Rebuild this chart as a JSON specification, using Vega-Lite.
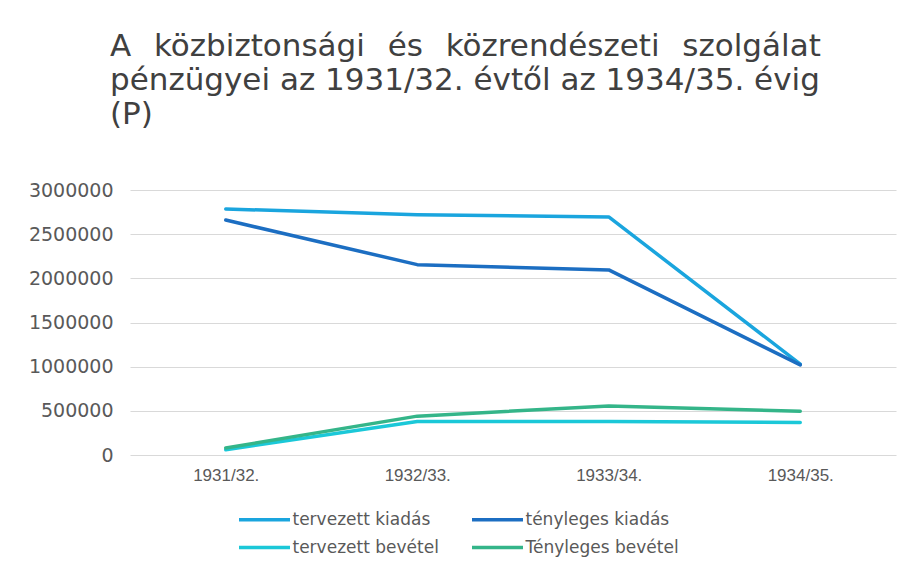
{
  "$schema": "https://vega.github.io/schema/vega-lite/v6.json",
  "autosize": "none",
  "width": 766,
  "height": 265,
  "padding": {"left": 130, "top": 190, "right": 17, "bottom": 114},
  "background": "white",
  "title": {
    "text": ["A \u00a0\u200aközbiztonsági \u00a0\u200aés \u00a0\u200aközrendészeti \u00a0\u200aszolgálat", "pénzügyei az 1931/32. évtől az 1934/35. évig", "(P)"],
    "anchor": "start",
    "frame": "group",
    "dx": -20,
    "offset": 50,
    "font": "DejaVu Sans",
    "fontSize": 31,
    "fontWeight": "normal",
    "lineHeight": 34,
    "color": "#404040"
  },
  "data": {
    "values": [
      {"ev": "1931/32.", "sorozat": "tervezett kiadás", "ertek": 2785000},
      {"ev": "1932/33.", "sorozat": "tervezett kiadás", "ertek": 2720000},
      {"ev": "1933/34.", "sorozat": "tervezett kiadás", "ertek": 2695000},
      {"ev": "1934/35.", "sorozat": "tervezett kiadás", "ertek": 1030000},
      {"ev": "1931/32.", "sorozat": "tényleges kiadás", "ertek": 2660000},
      {"ev": "1932/33.", "sorozat": "tényleges kiadás", "ertek": 2155000},
      {"ev": "1933/34.", "sorozat": "tényleges kiadás", "ertek": 2095000},
      {"ev": "1934/35.", "sorozat": "tényleges kiadás", "ertek": 1020000},
      {"ev": "1931/32.", "sorozat": "tervezett bevétel", "ertek": 60000},
      {"ev": "1932/33.", "sorozat": "tervezett bevétel", "ertek": 380000},
      {"ev": "1933/34.", "sorozat": "tervezett bevétel", "ertek": 380000},
      {"ev": "1934/35.", "sorozat": "tervezett bevétel", "ertek": 368000},
      {"ev": "1931/32.", "sorozat": "Tényleges bevétel", "ertek": 80000},
      {"ev": "1932/33.", "sorozat": "Tényleges bevétel", "ertek": 440000},
      {"ev": "1933/34.", "sorozat": "Tényleges bevétel", "ertek": 555000},
      {"ev": "1934/35.", "sorozat": "Tényleges bevétel", "ertek": 495000}
    ]
  },
  "mark": {"type": "line", "strokeWidth": 3.5, "strokeCap": "round", "strokeJoin": "round"},
  "encoding": {
    "x": {
      "field": "ev",
      "type": "ordinal",
      "sort": null,
      "scale": {"type": "point", "padding": 0.5},
      "axis": {
        "title": null,
        "domain": false,
        "ticks": false,
        "grid": false,
        "labelAngle": 0,
        "labelFont": "Liberation Sans",
        "labelFontSize": 17,
        "labelColor": "#595959",
        "labelPadding": 12
      }
    },
    "y": {
      "field": "ertek",
      "type": "quantitative",
      "scale": {"domain": [0, 3000000], "nice": false},
      "axis": {
        "title": null,
        "domain": false,
        "ticks": false,
        "values": [0, 500000, 1000000, 1500000, 2000000, 2500000, 3000000],
        "format": "d",
        "gridColor": "#d9d9d9",
        "gridWidth": 1.2,
        "labelFont": "DejaVu Sans",
        "labelFontSize": 19,
        "labelColor": "#595959",
        "labelPadding": 17
      }
    },
    "color": {
      "field": "sorozat",
      "type": "nominal",
      "scale": {
        "domain": ["tervezett kiadás", "tényleges kiadás", "tervezett bevétel", "Tényleges bevétel"],
        "range": ["#1AA5DE", "#1C6EC2", "#1BC8D8", "#34B589"]
      },
      "legend": {
        "title": null,
        "orient": "none",
        "legendX": 120,
        "legendY": 315,
        "direction": "horizontal",
        "columns": 2,
        "columnPadding": 26,
        "rowPadding": 5,
        "symbolType": "M-2,0L2,0",
        "symbolSize": 650,
        "symbolStrokeWidth": 3.5,
        "labelOffset": 13.5,
        "labelFont": "DejaVu Sans",
        "labelFontSize": 17,
        "labelColor": "#595959"
      }
    }
  },
  "config": {"view": {"stroke": null}}
}
